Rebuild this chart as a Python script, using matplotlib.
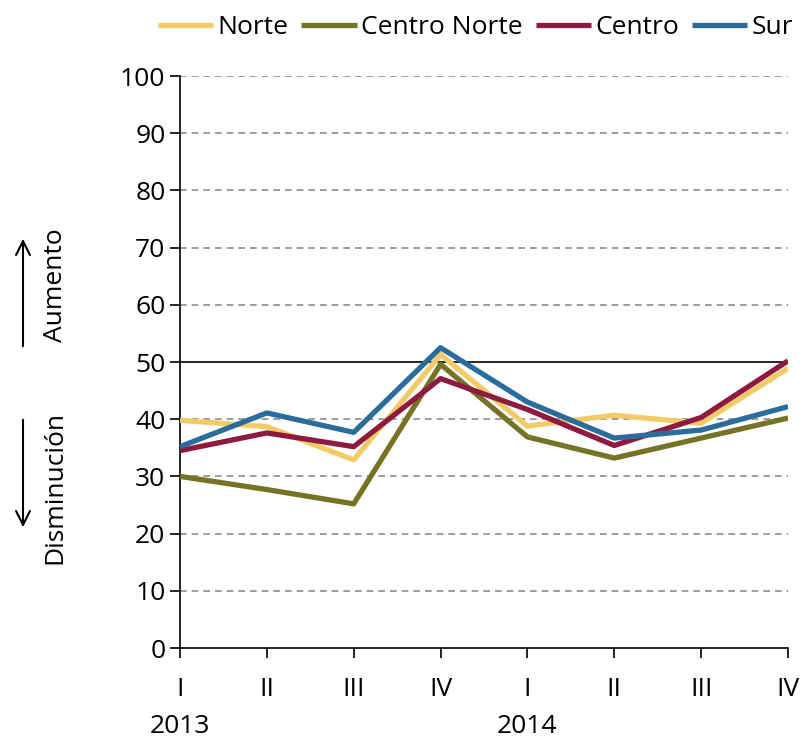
import matplotlib
matplotlib.use("Agg")
import matplotlib.pyplot as plt
from matplotlib import font_manager

names = {f.name for f in font_manager.fontManager.ttflist}
fam = 'Liberation Sans Narrow' if 'Liberation Sans Narrow' in names else 'Open Sans'
plt.rcParams['font.family'] = [fam, 'DejaVu Sans']

quarters = ['I', 'II', 'III', 'IV', 'I', 'II', 'III', 'IV']
years = ['2013', '2014']
norte = [39.8, 38.7, 32.9, 51.3, 38.8, 40.7, 39.3, 48.9]
centro_norte = [30.0, 27.7, 25.2, 49.6, 36.9, 33.2, 36.7, 40.2]
centro = [34.5, 37.6, 35.2, 47.1, 41.7, 35.4, 40.3, 50.2]
sur = [35.2, 41.1, 37.7, 52.5, 43.0, 36.7, 38.1, 42.2]

series = [('Norte', norte, '#F2CB66'), ('Centro Norte', centro_norte, '#767226'),
          ('Centro', centro, '#8E1B3E'), ('Sur', sur, '#2A6D9C')]

fig = plt.figure(figsize=(8.09, 7.39), dpi=100)
ax = fig.add_axes([180/809, 1-648/739, (788-180)/809, (648-76)/739])
x = list(range(len(quarters)))
for yv in range(10, 101, 10):
    if yv == 50:
        ax.axhline(yv, color='black', lw=1.2, zorder=1)
    else:
        ax.axhline(yv, color='#8c8c8c', lw=1.2, ls=(0, (4, 3)), zorder=1)
for name, vals, c in series:
    ax.plot(x, vals, color=c, lw=3.8, label=name, zorder=3, solid_capstyle='butt')
ax.set_xlim(0, 7)
ax.set_ylim(0, 100)
ax.set_yticks(range(0, 101, 10))
ax.set_xticks(x)
ax.set_xticklabels(quarters)
ax.tick_params(axis='both', labelsize=19, width=1.2, length=7, direction='out')
ax.tick_params(axis='x', pad=14)
for s in ['top', 'right']:
    ax.spines[s].set_visible(False)
for s in ['left', 'bottom']:
    ax.spines[s].set_linewidth(1.2)
    ax.spines[s].set_clip_on(False)
for i, yr in enumerate(years):
    ax.text(i * 4, -0.137, yr, transform=ax.get_xaxis_transform(), ha='center', va='center', fontsize=19)

fig.text(55/809, 1-285/739, 'Aumento', rotation=90, ha='center', va='center', fontsize=19)
fig.text(55/809, 1-487/739, 'Disminución', rotation=90, ha='center', va='center', fontsize=19)
ax.annotate('', xy=(23/809, 1-236/739), xytext=(23/809, 1-349/739), xycoords='figure fraction',
            arrowprops=dict(arrowstyle='->', lw=1.5, color='black', mutation_scale=25))
ax.annotate('', xy=(23/809, 1-530/739), xytext=(23/809, 1-417/739), xycoords='figure fraction',
            arrowprops=dict(arrowstyle='->', lw=1.5, color='black', mutation_scale=25))

leg = fig.legend(loc='upper left', bbox_to_anchor=(134/809, 1.012), ncol=4, frameon=False,
                 fontsize=19, handlelength=2.1, handletextpad=0.15, columnspacing=0.5)
fig.savefig('out.png', dpi=100)
